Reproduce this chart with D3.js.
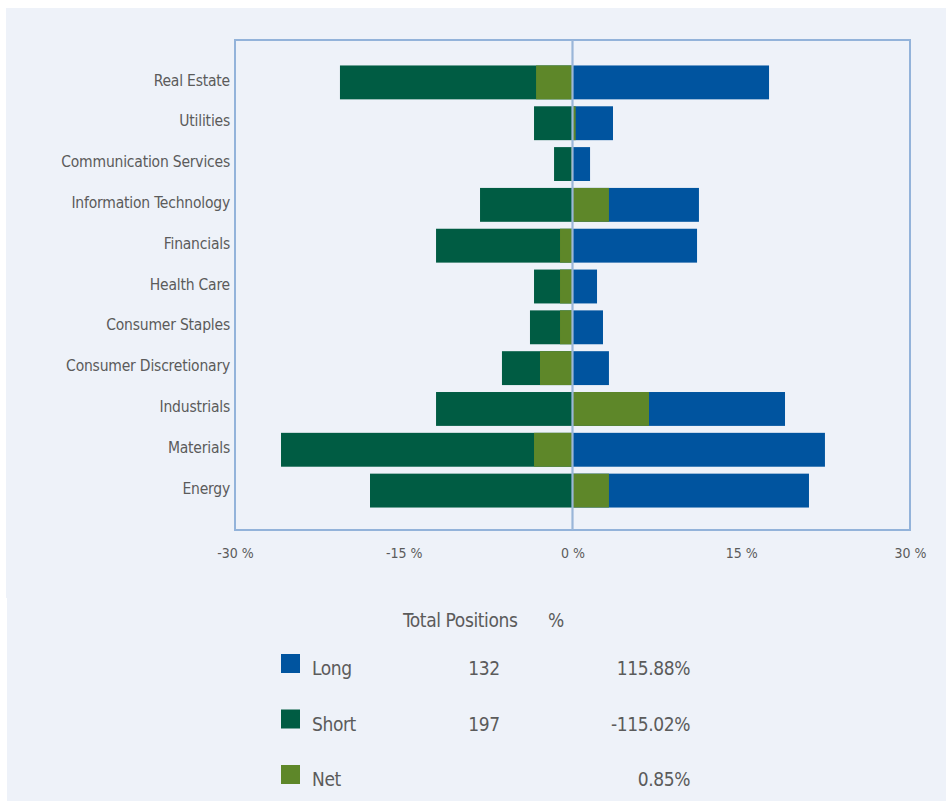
<!DOCTYPE html>
<html>
<head>
<meta charset="utf-8">
<script src="https://cdn.jsdelivr.net/npm/d3@7"></script>
<style>
  html, body { margin: 0; padding: 0; background: #ffffff; }
  svg { display: block; }
  text { font-family: "Liberation Sans Narrow", "DejaVu Sans Condensed", "Arial Narrow", sans-serif; fill: #5b5b5b; }
</style>
</head>
<body>
<svg id="chart" width="946" height="801"></svg>
<script>
const categories = ["Real Estate", "Utilities", "Communication Services", "Information Technology",
  "Financials", "Health Care", "Consumer Staples", "Consumer Discretionary", "Industrials", "Materials", "Energy"];
const longValues  = [17.47, 3.60, 1.56, 11.24, 11.07, 2.18, 2.71, 3.24, 18.89, 22.44, 21.02];
const shortValues = [-20.67, -3.42, -1.64, -8.22, -12.13, -3.42, -3.78, -6.27, -12.13, -25.91, -18.00];
const netValues   = [-3.24, 0.28, -0.10, 3.24, -1.11, -1.11, -1.11, -2.89, 6.80, -3.42, 3.24];
const xTicks = [-30, -15, 0, 15, 30];
const legendRows = [
  { name: "Long",  count: "132", pct: "115.88%" },
  { name: "Short", count: "197", pct: "-115.02%" },
  { name: "Net",   count: "",    pct: "0.85%" }
];
const legendHeader = ["Total Positions", "%"];

const colors = { Long: "#00549f", Short: "#005c43", Net: "#5e8729" };

const svg = d3.select("#chart");

// background panels
svg.append("rect").attr("x", 6).attr("y", 8).attr("width", 940).attr("height", 590).attr("fill", "#eef2f9");
svg.append("rect").attr("x", 7).attr("y", 597).attr("width", 939).attr("height", 204).attr("fill", "#eef2f9");

const box = { x0: 235, x1: 910, y0: 40, y1: 530 };

const x = d3.scaleLinear().domain([-30, 30]).range([box.x0, box.x1]);
const y = d3.scaleBand().domain(categories).range([62, 511]).paddingInner(0.17).paddingOuter(0.085);

const rows = categories.map((c, i) => ({ cat: c, long: longValues[i], short: shortValues[i], net: netValues[i] }));

const g = svg.append("g");

function bars(key, color) {
  g.selectAll("rect." + key).data(rows).join("rect")
    .attr("class", key)
    .attr("x", d => Math.min(x(0), x(d[key])))
    .attr("width", d => Math.abs(x(d[key]) - x(0)))
    .attr("y", d => y(d.cat))
    .attr("height", y.bandwidth())
    .attr("fill", color);
}
bars("short", colors.Short);
bars("long", colors.Long);
bars("net", colors.Net);

// plot frame
svg.append("rect")
  .attr("x", box.x0).attr("y", box.y0)
  .attr("width", box.x1 - box.x0).attr("height", box.y1 - box.y0)
  .attr("fill", "none").attr("stroke", "#93b3da").attr("stroke-width", 2);

// zero line
svg.append("line")
  .attr("x1", x(0)).attr("x2", x(0)).attr("y1", box.y0).attr("y2", box.y1)
  .attr("stroke", "#9ab6d8").attr("stroke-width", 2.2);

// category axis
const yAxis = d3.axisLeft(y).tickSize(0).tickPadding(0);
const ya = svg.append("g").attr("transform", `translate(${box.x0 - 5},0)`).call(yAxis);
ya.select(".domain").remove();
ya.selectAll("text").attr("font-size", "15.5px").style("fill", "#5b5b5b")
  .style("letter-spacing", "-0.2px")
  .attr("dy", "0.2em");

// x axis
const xAxis = d3.axisBottom(x).tickValues(xTicks).tickSize(0).tickPadding(0).tickFormat(d => d + " %");
const xa = svg.append("g").attr("transform", `translate(0,${box.y1 + 17})`).call(xAxis);
xa.select(".domain").remove();
xa.selectAll("text").attr("font-size", "14px").style("fill", "#5b5b5b").attr("dy", "0.75em");

// legend
const lfs = "19px", lls = "-0.4px";
svg.append("text").attr("x", 403).attr("y", 627).attr("font-size", lfs).style("letter-spacing", lls).text(legendHeader[0]);
svg.append("text").attr("x", 548).attr("y", 627).attr("font-size", lfs).text(legendHeader[1]);

const lg = svg.append("g");
legendRows.forEach((r, i) => {
  const by = 654 + i * 55.5;
  lg.append("rect").attr("x", 281).attr("y", by).attr("width", 19).attr("height", 19).attr("fill", colors[r.name]);
  lg.append("text").attr("x", 312).attr("y", by + 21).attr("font-size", lfs).style("letter-spacing", lls).text(r.name);
  lg.append("text").attr("x", 484).attr("y", by + 21).attr("font-size", lfs).style("letter-spacing", lls).attr("text-anchor", "middle").text(r.count);
  lg.append("text").attr("x", 690).attr("y", by + 21).attr("font-size", lfs).style("letter-spacing", lls).attr("text-anchor", "end").text(r.pct);
});
</script>
</body>
</html>
